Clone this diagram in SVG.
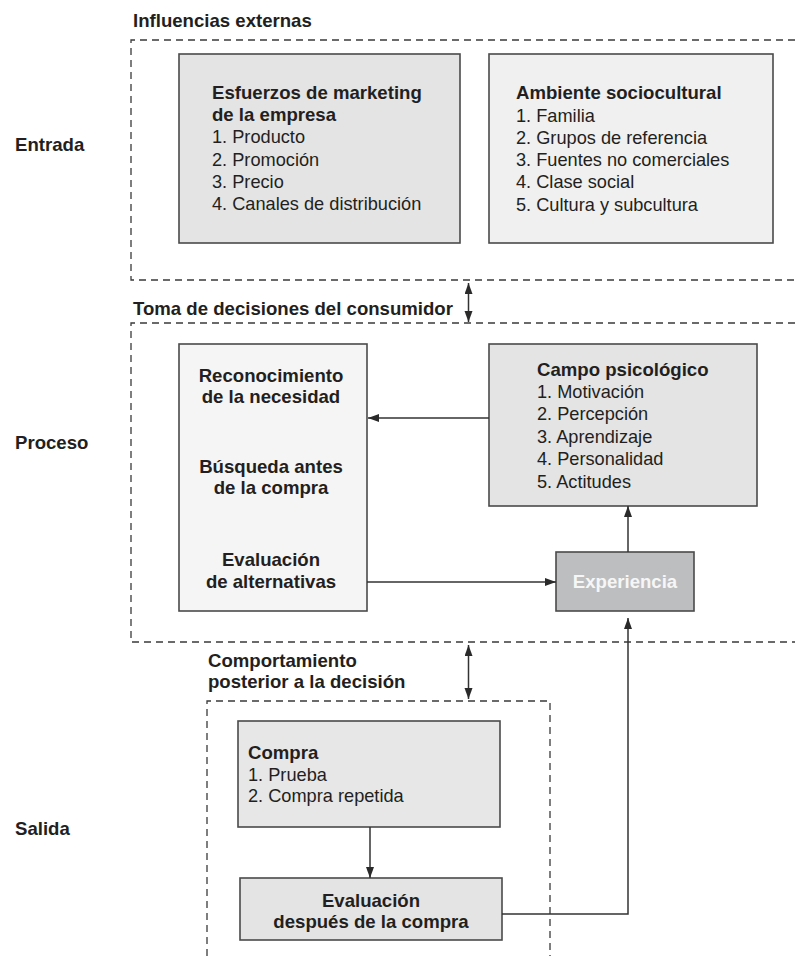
<svg xmlns="http://www.w3.org/2000/svg" width="795" height="956" viewBox="0 0 795 956">
<defs>
<marker id="ah" markerUnits="userSpaceOnUse" markerWidth="12" markerHeight="9" refX="11" refY="4" orient="auto-start-reverse"><path d="M0,0 L11,4 L0,8 Z" fill="#2a2a2a"/></marker>
</defs>
<style>
text{font-family:"Liberation Sans",Arial,sans-serif;fill:#231f20;font-size:18.2px}
.b{font-weight:bold;font-size:18.6px}
.c{text-anchor:middle}
.box{stroke:#4a4a4a;stroke-width:1.6}
.dash{fill:none;stroke:#3a3a3a;stroke-width:1.3;stroke-dasharray:7 5}
.ln{fill:none;stroke:#333;stroke-width:1.5}
</style>
<rect width="795" height="956" fill="#ffffff"/>

<g id="labels">
<text class="b" x="133" y="27">Influencias externas</text>
<text class="b" x="133" y="315">Toma de decisiones del consumidor</text>
<text class="b" x="208" y="667">Comportamiento</text>
<text class="b" x="208" y="688">posterior a la decisión</text>
<text class="b" x="15" y="151">Entrada</text>
<text class="b" x="15" y="449">Proceso</text>
<text class="b" x="15" y="835">Salida</text>
</g>

<g id="regions">
<path class="dash" d="M795,40 H131 V280 H795"/>
<path class="dash" d="M795,323 H131 V642 H795"/>
<path class="dash" d="M207,956 V701 H550 V956"/>
</g>

<g id="esfuerzos">
<rect class="box" x="179" y="54" width="281" height="189" fill="#e4e4e5"/>
<text class="b" x="212" y="99">Esfuerzos de marketing</text>
<text class="b" x="212" y="121">de la empresa</text>
<text x="212" y="143">1. Producto</text>
<text x="212" y="166">2. Promoción</text>
<text x="212" y="188">3. Precio</text>
<text x="212" y="210">4. Canales de distribución</text>
</g>

<g id="ambiente">
<rect class="box" x="489" y="54" width="284" height="189" fill="#f0f0f0"/>
<text class="b" x="516" y="99">Ambiente sociocultural</text>
<text x="516" y="122">1. Familia</text>
<text x="516" y="144">2. Grupos de referencia</text>
<text x="516" y="166">3. Fuentes no comerciales</text>
<text x="516" y="188">4. Clase social</text>
<text x="516" y="211">5. Cultura y subcultura</text>
</g>

<g id="decision">
<rect class="box" x="179" y="344" width="188" height="267" fill="#f5f5f5"/>
<text class="b c" x="271" y="382">Reconocimiento</text>
<text class="b c" x="271" y="403">de la necesidad</text>
<text class="b c" x="271" y="473">Búsqueda antes</text>
<text class="b c" x="271" y="494">de la compra</text>
<text class="b c" x="271" y="566">Evaluación</text>
<text class="b c" x="271" y="588">de alternativas</text>
</g>

<g id="campo">
<rect class="box" x="489" y="344" width="268" height="162" fill="#e4e4e5"/>
<text class="b" x="537" y="376">Campo psicológico</text>
<text x="537" y="398">1. Motivación</text>
<text x="537" y="420">2. Percepción</text>
<text x="537" y="443">3. Aprendizaje</text>
<text x="537" y="465">4. Personalidad</text>
<text x="537" y="488">5. Actitudes</text>
</g>

<g id="experiencia">
<rect class="box" x="556" y="552" width="138" height="59" fill="#bdbec0"/>
<text class="b c" x="625" y="588" style="fill:#f6f6f6">Experiencia</text>
</g>

<g id="compra">
<rect class="box" x="238" y="721" width="262" height="106" fill="#e7e7e8"/>
<text class="b" x="248" y="759">Compra</text>
<text x="248" y="781">1. Prueba</text>
<text x="248" y="802">2. Compra repetida</text>
</g>

<g id="evaluacion">
<rect class="box" x="240" y="878" width="262" height="62" fill="#e4e4e5"/>
<text class="b c" x="371" y="907">Evaluación</text>
<text class="b c" x="371" y="928">después de la compra</text>
</g>

<g id="connectors">
<line class="ln" x1="468.5" y1="283" x2="468.5" y2="322" marker-start="url(#ah)" marker-end="url(#ah)"/>
<line class="ln" x1="468.5" y1="645" x2="468.5" y2="699" marker-start="url(#ah)" marker-end="url(#ah)"/>
<line class="ln" x1="489" y1="418" x2="368" y2="418" marker-end="url(#ah)"/>
<line class="ln" x1="367" y1="582" x2="556" y2="582" marker-end="url(#ah)"/>
<line class="ln" x1="628" y1="552" x2="628" y2="506" marker-end="url(#ah)"/>
<line class="ln" x1="370" y1="827" x2="370" y2="878" marker-end="url(#ah)"/>
<path class="ln" d="M502,914 H628 V618" marker-end="url(#ah)"/>
</g>
</svg>
